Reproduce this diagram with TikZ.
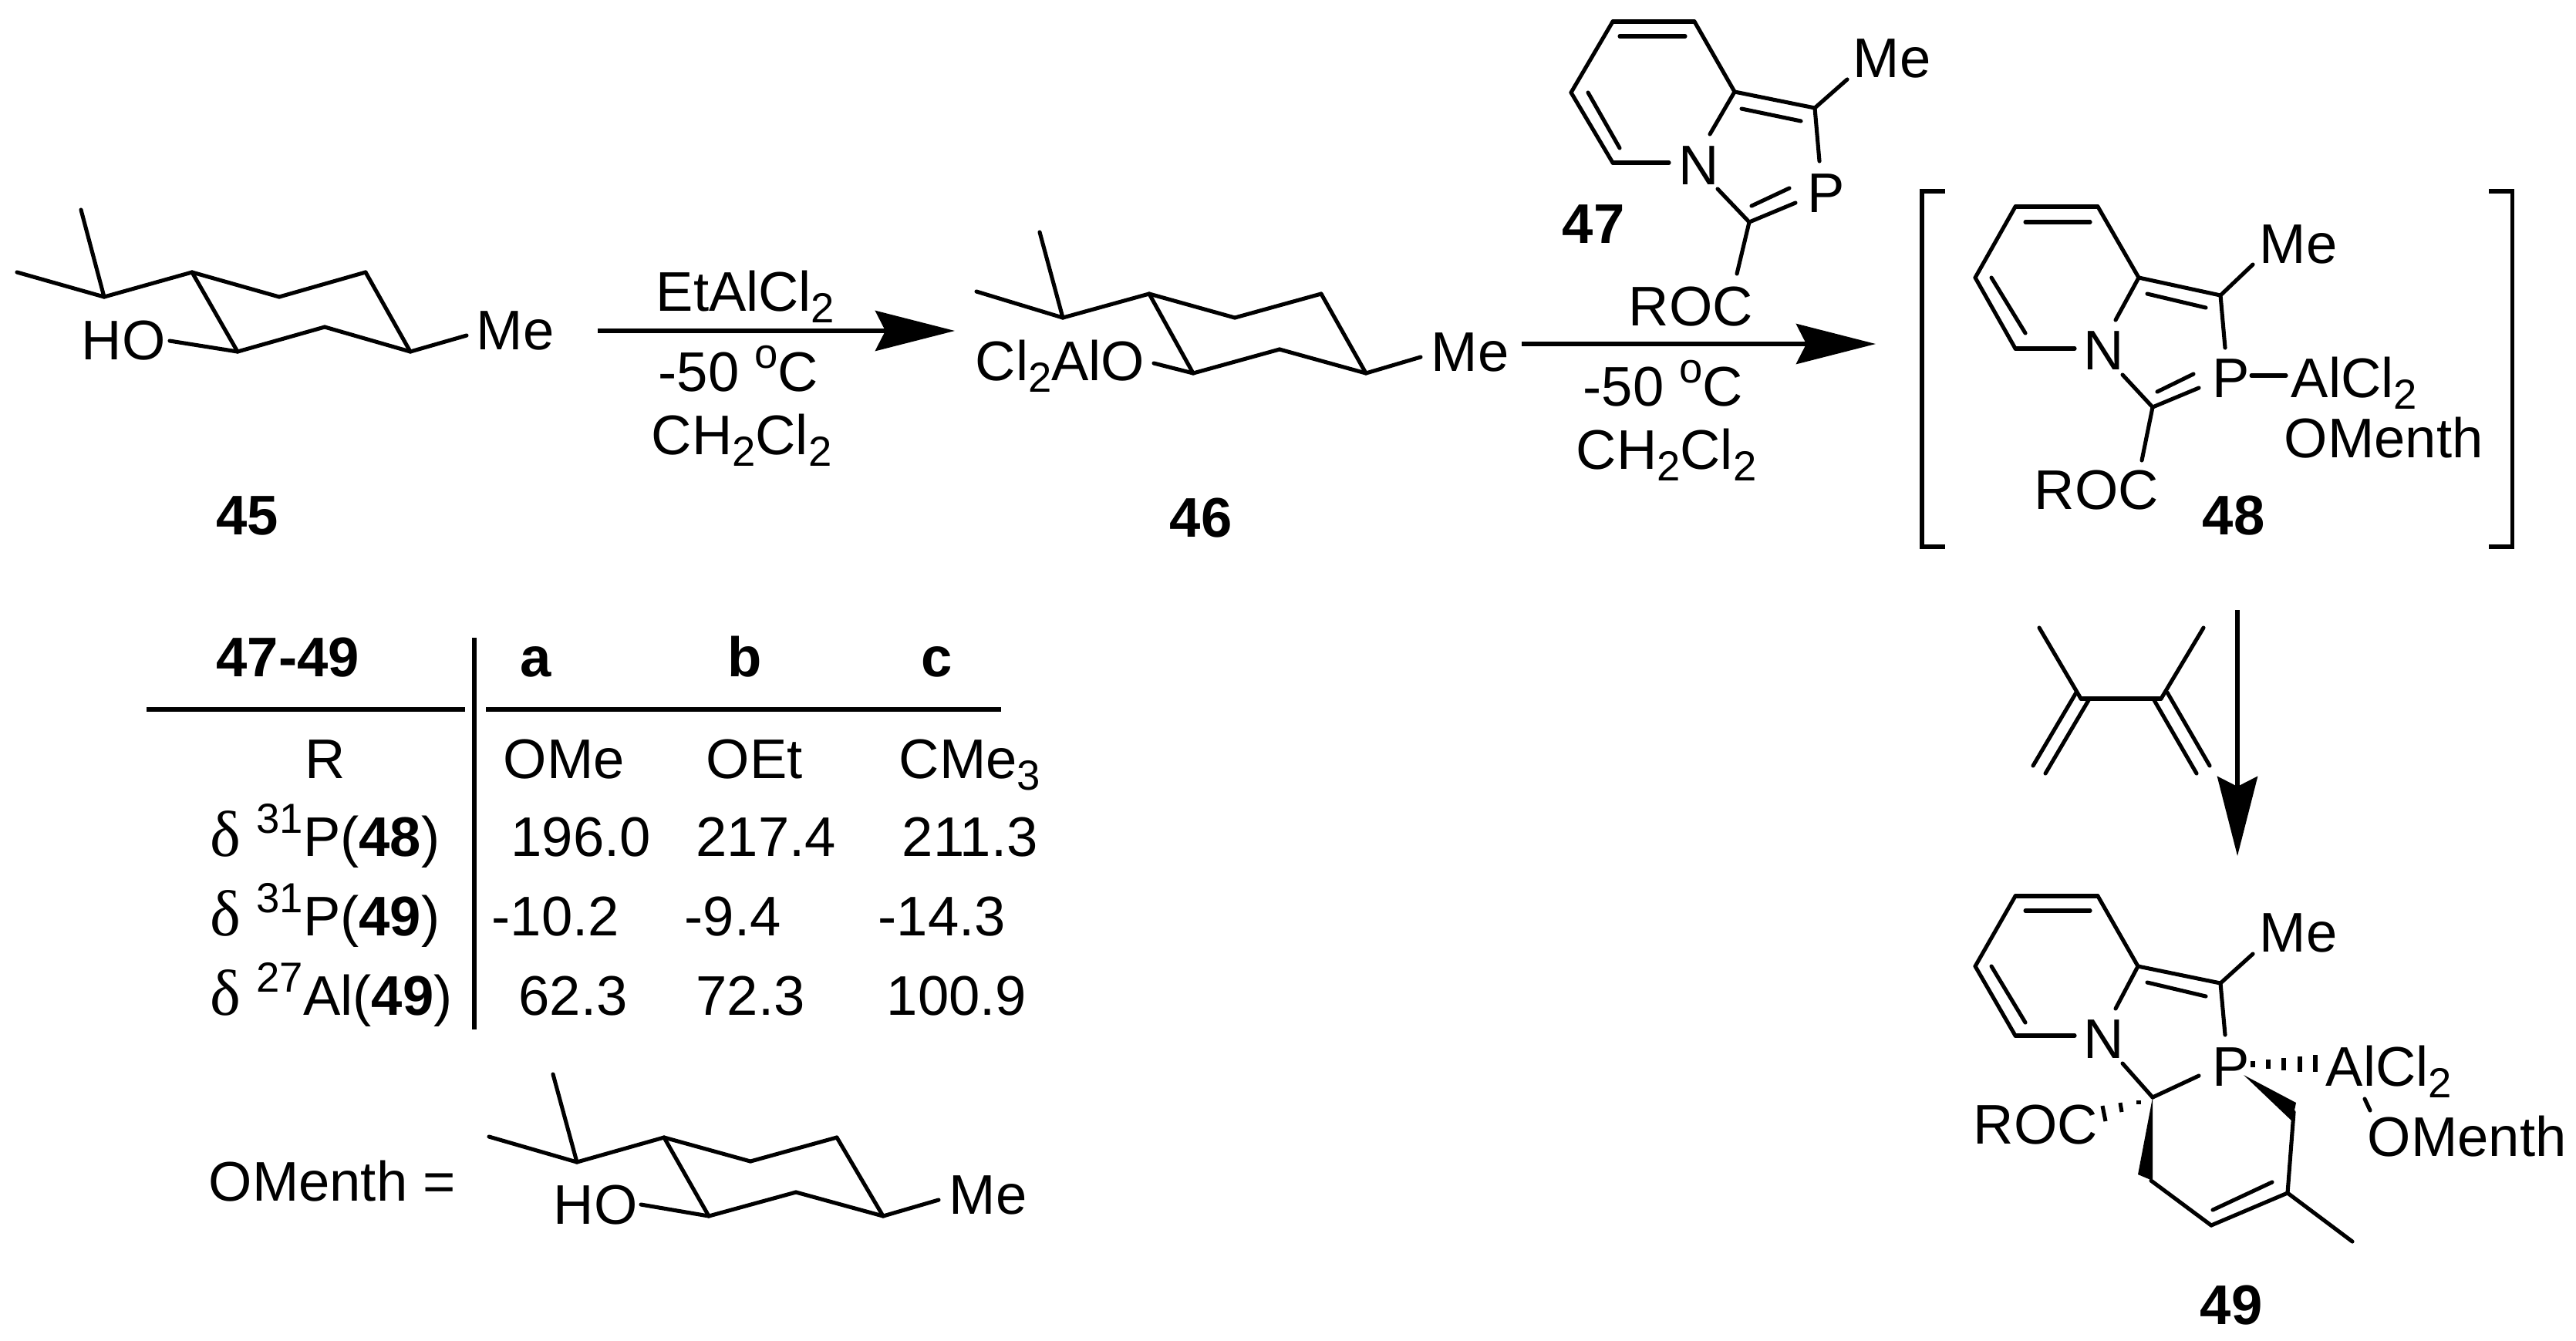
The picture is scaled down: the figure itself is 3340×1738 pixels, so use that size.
\documentclass[tikz,border=0pt]{standalone}
\usepackage{fontspec}
\setmainfont{Liberation Sans}
\newfontfamily\deltafont{Liberation Serif}
\usetikzlibrary{arrows.meta}
\newcommand{\chemsub}[1]{\raisebox{-4.3pt}{\fontsize{15.5}{15.5}\selectfont #1}}
\newcommand{\chemsup}[1]{\raisebox{8.3pt}{\fontsize{15.5}{15.5}\selectfont #1}}
\tikzset{
  bond/.style={line width=1.45pt, line cap=round},
  txt/.style={inner sep=0pt, anchor=base west, font=\fontsize{20.6}{20.6}\selectfont},
  rarrow/.style={line width=1.6pt, -{Stealth[length=1.03cm,width=0.52cm,inset=0.13cm]}}
}
\begin{document}
\begin{tikzpicture}[x=0.01cm,y=-0.01cm]
\useasboundingbox (0,0) rectangle (3340,1738);

%Nodes
\node[txt] (ho45) at (105,466) {HO};
\node[txt] (me45) at (617,453) {Me};
\node[txt] (num45) at (280,693) {\bfseries 45};

\node[txt] (eta) at (850,403) {EtAlCl\chemsub{2}};
\node[txt] (temp1) at (853,507) {-50 \chemsup{o}C};
\node[txt] (solv1) at (844,589) {CH\chemsub{2}Cl\chemsub{2}};

\node[txt] (alo46) at (1264,493) {Cl\chemsub{2}AlO};
\node[txt] (me46) at (1855,481) {Me};
\node[txt] (num46) at (1516,696) {\bfseries 46};

\node[txt] (n47) at (2176,239) {N};
\node[txt] (p47) at (2343,275) {P};
\node[txt] (me47) at (2402,100) {Me};
\node[txt] (roc47) at (2111,422) {ROC};
\node[txt] (num47) at (2025,315) {\bfseries 47};

\node[txt] (temp2) at (2052,526) {-50 \chemsup{o}C};
\node[txt] (solv2) at (2043,608) {CH\chemsub{2}Cl\chemsub{2}};

\node[txt] (n48) at (2701,479) {N};
\node[txt] (p48) at (2868,515) {P};
\node[txt] (me48) at (2929,341) {Me};
\node[txt] (al48) at (2970,515) {AlCl\chemsub{2}};
\node[txt] (om48) at (2961,593) {OMenth};
\node[txt] (roc48) at (2637,660) {ROC};
\node[txt] (num48) at (2855,693) {\bfseries 48};

\node[txt] (n49) at (2701,1372) {N};
\node[txt] (p49) at (2868,1408) {P};
\node[txt] (me49) at (2929,1234) {Me};
\node[txt] (al49) at (3015,1408) {AlCl\chemsub{2}};
\node[txt] (om49) at (3069,1499) {OMenth};
\node[txt] (roc49) at (2558,1483) {ROC};
\node[txt] (num49) at (2852,1717) {\bfseries 49};

\node[txt] (tabhead) at (280,877) {\bfseries 47-49};
\node[txt] (taba) at (674,877) {\bfseries a};
\node[txt] (tabb) at (943,877) {\bfseries b};
\node[txt] (tabc) at (1194,877) {\bfseries c};

\node[txt] (tabr) at (395,1009) {R};
\node[txt] (tabra) at (652,1009) {OMe};
\node[txt] (tabrb) at (915,1009) {OEt};
\node[txt] (tabrc) at (1165,1009) {CMe\chemsub{3}};

\node[txt] (row1) at (272,1110) {{\deltafont\fontsize{24}{24}\selectfont δ} \chemsup{31}P(\textbf{48})};
\node[txt] (row1a) at (662,1110) {196.0};
\node[txt] (row1b) at (902,1110) {217.4};
\node[txt] (row1c) at (1169,1110) {211.3};

\node[txt] (row2) at (272,1213) {{\deltafont\fontsize{24}{24}\selectfont δ} \chemsup{31}P(\textbf{49})};
\node[txt] (row2a) at (637,1213) {-10.2};
\node[txt] (row2b) at (887,1213) {-9.4};
\node[txt] (row2c) at (1138,1213) {-14.3};

\node[txt] (row3) at (272,1316) {{\deltafont\fontsize{24}{24}\selectfont δ} \chemsup{27}Al(\textbf{49})};
\node[txt] (row3a) at (672,1316) {62.3};
\node[txt] (row3b) at (902,1316) {72.3};
\node[txt] (row3c) at (1149,1316) {100.9};

\node[txt] (omenth) at (270,1557) {OMenth =};
\node[txt] (hoom) at (717,1587) {HO};
\node[txt] (meom) at (1230,1574) {Me};

%Atoms
\coordinate (a45top) at (105,272);
\coordinate (a45left) at (22,353);
\coordinate (a45c1) at (135,385);
\coordinate (a45c2) at (249,353);
\coordinate (a45c3) at (362,385);
\coordinate (a45c4) at (474,353);
\coordinate (a45c5) at (532,456);
\coordinate (a45c6) at (421,424);
\coordinate (a45c7) at (308,456);
\coordinate (a45o) at (220,442);
\coordinate (a45me) at (605,435);

\coordinate (a46top) at (1348,301);
\coordinate (a46left) at (1266,378);
\coordinate (a46c1) at (1378,412);
\coordinate (a46c2) at (1490,381);
\coordinate (a46c3) at (1601,412);
\coordinate (a46c4) at (1713,381);
\coordinate (a46c5) at (1771,484);
\coordinate (a46c6) at (1659,453);
\coordinate (a46c7) at (1547,484);
\coordinate (a46o) at (1496,471);
\coordinate (a46me) at (1842,463);

\coordinate (aomtop) at (717,1393);
\coordinate (aomleft) at (634,1474);
\coordinate (aomc1) at (748,1507);
\coordinate (aomc2) at (861,1475);
\coordinate (aomc3) at (973,1506);
\coordinate (aomc4) at (1085,1475);
\coordinate (aomc5) at (1145,1577);
\coordinate (aomc6) at (1032,1546);
\coordinate (aomc7) at (919,1577);
\coordinate (aomo) at (831,1562);
\coordinate (aomme) at (1217,1556);

\coordinate (a47c1) at (2091,28);
\coordinate (a47c2) at (2197,28);
\coordinate (a47c3) at (2249,119);
\coordinate (a47c4) at (2037,120);
\coordinate (a47c5) at (2091,211);
\coordinate (a47i1) at (2100,47);
\coordinate (a47i2) at (2185,47);
\coordinate (a47i3) at (2059,120);
\coordinate (a47i4) at (2100,192);
\coordinate (a47n1) at (2164,211);
\coordinate (a47n2) at (2217,174);
\coordinate (a47n3) at (2227,245);
\coordinate (a47c6) at (2353,140);
\coordinate (a47i5) at (2258,141);
\coordinate (a47i6) at (2335,157);
\coordinate (a47me) at (2395,103);
\coordinate (a47p1) at (2359,209);
\coordinate (a47c7) at (2268,288);
\coordinate (a47p2) at (2328,263);
\coordinate (a47i7) at (2271,267);
\coordinate (a47i8) at (2320,244);
\coordinate (a47roc) at (2252,355);

\coordinate (a48c1) at (2613,268);
\coordinate (a48c2) at (2720,268);
\coordinate (a48c3) at (2773,360);
\coordinate (a48c4) at (2561,360);
\coordinate (a48c5) at (2613,452);
\coordinate (a48i1) at (2626,288);
\coordinate (a48i2) at (2710,288);
\coordinate (a48i3) at (2582,360);
\coordinate (a48i4) at (2626,432);
\coordinate (a48n1) at (2690,452);
\coordinate (a48n2) at (2743,415);
\coordinate (a48n3) at (2752,486);
\coordinate (a48c6) at (2879,383);
\coordinate (a48i5) at (2784,381);
\coordinate (a48i6) at (2860,399);
\coordinate (a48me) at (2921,343);
\coordinate (a48p1) at (2885,451);
\coordinate (a48c7) at (2791,528);
\coordinate (a48p2) at (2851,503);
\coordinate (a48i7) at (2797,508);
\coordinate (a48i8) at (2844,485);
\coordinate (a48roc) at (2777,597);
\coordinate (a48al1) at (2919,487);
\coordinate (a48al2) at (2964,487);

\coordinate (a49c1) at (2613,1162);
\coordinate (a49c2) at (2720,1162);
\coordinate (a49c3) at (2772,1253);
\coordinate (a49c4) at (2561,1253);
\coordinate (a49c5) at (2613,1343);
\coordinate (a49i1) at (2626,1181);
\coordinate (a49i2) at (2710,1181);
\coordinate (a49i3) at (2582,1253);
\coordinate (a49i4) at (2626,1326);
\coordinate (a49n1) at (2690,1343);
\coordinate (a49n2) at (2743,1308);
\coordinate (a49n3) at (2752,1379);
\coordinate (a49c6) at (2879,1275);
\coordinate (a49i5) at (2784,1274);
\coordinate (a49i6) at (2860,1292);
\coordinate (a49me) at (2921,1237);
\coordinate (a49p1) at (2885,1342);
\coordinate (a49c7) at (2791,1423);
\coordinate (a49p2) at (2851,1395);
\coordinate (a49w1) at (2909,1394);
\coordinate (a49w2) at (2977,1430);
\coordinate (a49w3) at (2972,1454);
\coordinate (a49c8) at (2974,1442);
\coordinate (a49c9) at (2966,1547);
\coordinate (a49c10) at (2867,1589);
\coordinate (a49i7) at (2946,1533);
\coordinate (a49i8) at (2869,1569);
\coordinate (a49c11) at (2789,1531);
\coordinate (a49w4) at (2772,1523);
\coordinate (a49w5) at (2791,1531);
\coordinate (a49me2) at (3050,1610);
\coordinate (a49om1) at (3066,1425);
\coordinate (a49om2) at (3073,1440);

\coordinate (h1a) at (2921,1376);
\coordinate (h1b) at (2921,1384);
\coordinate (h2a) at (2941,1374);
\coordinate (h2b) at (2941,1386);
\coordinate (h3a) at (2961,1372);
\coordinate (h3b) at (2961,1388);
\coordinate (h4a) at (2982,1370);
\coordinate (h4b) at (2982,1390);
\coordinate (h5a) at (3002,1368);
\coordinate (h5b) at (3002,1390);
\coordinate (h6a) at (2773,1427);
\coordinate (h6b) at (2773,1432);
\coordinate (h7a) at (2749,1430);
\coordinate (h7b) at (2751,1442);
\coordinate (h8a) at (2726,1434);
\coordinate (h8b) at (2730,1454);

\coordinate (d1) at (2644,814);
\coordinate (d2) at (2698,906);
\coordinate (d3) at (2802,906);
\coordinate (d4) at (2857,814);
\coordinate (d5) at (2692,898);
\coordinate (d6) at (2636,993);
\coordinate (d7) at (2708,908);
\coordinate (d8) at (2652,1003);
\coordinate (d9) at (2810,898);
\coordinate (d10) at (2865,993);
\coordinate (d11) at (2793,908);
\coordinate (d12) at (2848,1003);

\coordinate (arrow1a) at (775,429);
\coordinate (arrow1b) at (1238,429);
\coordinate (arrow2a) at (1973,446);
\coordinate (arrow2b) at (2432,446);
\coordinate (arrow3a) at (2901,791);
\coordinate (arrow3b) at (2901,1110);

\coordinate (brl1) at (2522,248);
\coordinate (brl2) at (2492,248);
\coordinate (brl3) at (2492,709);
\coordinate (brl4) at (2522,709);
\coordinate (brr1) at (3227,248);
\coordinate (brr2) at (3257,248);
\coordinate (brr3) at (3257,709);
\coordinate (brr4) at (3227,709);

\coordinate (tabv1) at (615,827);
\coordinate (tabv2) at (615,1335);
\coordinate (tabh1) at (190,920);
\coordinate (tabh2) at (603,920);
\coordinate (tabh3) at (630,920);
\coordinate (tabh4) at (1298,920);

%Lines
\draw[bond] (a45top) -- (a45c1);
\draw[bond] (a45left) -- (a45c1);
\draw[bond] (a45c1) -- (a45c2);
\draw[bond] (a45c2) -- (a45c3);
\draw[bond] (a45c3) -- (a45c4);
\draw[bond] (a45c4) -- (a45c5);
\draw[bond] (a45c5) -- (a45c6);
\draw[bond] (a45c6) -- (a45c7);
\draw[bond] (a45c7) -- (a45c2);
\draw[bond] (a45c7) -- (a45o);
\draw[bond] (a45c5) -- (a45me);

\draw[bond] (a46top) -- (a46c1);
\draw[bond] (a46left) -- (a46c1);
\draw[bond] (a46c1) -- (a46c2);
\draw[bond] (a46c2) -- (a46c3);
\draw[bond] (a46c3) -- (a46c4);
\draw[bond] (a46c4) -- (a46c5);
\draw[bond] (a46c5) -- (a46c6);
\draw[bond] (a46c6) -- (a46c7);
\draw[bond] (a46c7) -- (a46c2);
\draw[bond] (a46c7) -- (a46o);
\draw[bond] (a46c5) -- (a46me);

\draw[bond] (aomtop) -- (aomc1);
\draw[bond] (aomleft) -- (aomc1);
\draw[bond] (aomc1) -- (aomc2);
\draw[bond] (aomc2) -- (aomc3);
\draw[bond] (aomc3) -- (aomc4);
\draw[bond] (aomc4) -- (aomc5);
\draw[bond] (aomc5) -- (aomc6);
\draw[bond] (aomc6) -- (aomc7);
\draw[bond] (aomc7) -- (aomc2);
\draw[bond] (aomc7) -- (aomo);
\draw[bond] (aomc5) -- (aomme);

\draw[bond] (a47c1) -- (a47c2);
\draw[bond] (a47c2) -- (a47c3);
\draw[bond] (a47c1) -- (a47c4);
\draw[bond] (a47c4) -- (a47c5);
\draw[bond] (a47i1) -- (a47i2);
\draw[bond] (a47i3) -- (a47i4);
\draw[bond] (a47c5) -- (a47n1);
\draw[bond] (a47c3) -- (a47n2);
\draw[bond] (a47c3) -- (a47c6);
\draw[bond] (a47i5) -- (a47i6);
\draw[bond] (a47c6) -- (a47me);
\draw[bond] (a47c6) -- (a47p1);
\draw[bond] (a47n3) -- (a47c7);
\draw[bond] (a47c7) -- (a47p2);
\draw[bond] (a47i7) -- (a47i8);
\draw[bond] (a47c7) -- (a47roc);

\draw[bond] (a48c1) -- (a48c2);
\draw[bond] (a48c2) -- (a48c3);
\draw[bond] (a48c1) -- (a48c4);
\draw[bond] (a48c4) -- (a48c5);
\draw[bond] (a48i1) -- (a48i2);
\draw[bond] (a48i3) -- (a48i4);
\draw[bond] (a48c5) -- (a48n1);
\draw[bond] (a48c3) -- (a48n2);
\draw[bond] (a48c3) -- (a48c6);
\draw[bond] (a48i5) -- (a48i6);
\draw[bond] (a48c6) -- (a48me);
\draw[bond] (a48c6) -- (a48p1);
\draw[bond] (a48n3) -- (a48c7);
\draw[bond] (a48c7) -- (a48p2);
\draw[bond] (a48i7) -- (a48i8);
\draw[bond] (a48c7) -- (a48roc);
\draw[bond] (a48al1) -- (a48al2);

\draw[bond] (a49c1) -- (a49c2);
\draw[bond] (a49c2) -- (a49c3);
\draw[bond] (a49c1) -- (a49c4);
\draw[bond] (a49c4) -- (a49c5);
\draw[bond] (a49i1) -- (a49i2);
\draw[bond] (a49i3) -- (a49i4);
\draw[bond] (a49c5) -- (a49n1);
\draw[bond] (a49c3) -- (a49n2);
\draw[bond] (a49c3) -- (a49c6);
\draw[bond] (a49i5) -- (a49i6);
\draw[bond] (a49c6) -- (a49me);
\draw[bond] (a49c6) -- (a49p1);
\draw[bond] (a49n3) -- (a49c7);
\draw[bond] (a49c7) -- (a49p2);
\draw[bond] (a49c8) -- (a49c9);
\draw[bond] (a49c9) -- (a49c10);
\draw[bond] (a49i7) -- (a49i8);
\draw[bond] (a49c10) -- (a49c11);
\draw[bond] (a49c9) -- (a49me2);
\draw[bond] (a49om1) -- (a49om2);

\fill (a49w1) -- (a49w2) -- (a49w3) -- cycle;
\fill (a49c7) -- (a49w4) -- (a49w5) -- cycle;

\draw[bond, line cap=butt] (h1a) -- (h1b);
\draw[bond, line cap=butt] (h2a) -- (h2b);
\draw[bond, line cap=butt] (h3a) -- (h3b);
\draw[bond, line cap=butt] (h4a) -- (h4b);
\draw[bond, line cap=butt] (h5a) -- (h5b);
\draw[bond, line cap=butt] (h6a) -- (h6b);
\draw[bond, line cap=butt] (h7a) -- (h7b);
\draw[bond, line cap=butt] (h8a) -- (h8b);

\draw[bond] (d1) -- (d2);
\draw[bond] (d2) -- (d3);
\draw[bond] (d3) -- (d4);
\draw[bond] (d5) -- (d6);
\draw[bond] (d7) -- (d8);
\draw[bond] (d9) -- (d10);
\draw[bond] (d11) -- (d12);

\draw[rarrow] (arrow1a) -- (arrow1b);
\draw[rarrow] (arrow2a) -- (arrow2b);
\draw[rarrow] (arrow3a) -- (arrow3b);

\draw[bond, line cap=butt] (brl1) -- (brl2) -- (brl3) -- (brl4);
\draw[bond, line cap=butt] (brr1) -- (brr2) -- (brr3) -- (brr4);

\draw[bond, line cap=butt] (tabv1) -- (tabv2);
\draw[bond, line cap=butt] (tabh1) -- (tabh2);
\draw[bond, line cap=butt] (tabh3) -- (tabh4);
\end{tikzpicture}
\end{document}
